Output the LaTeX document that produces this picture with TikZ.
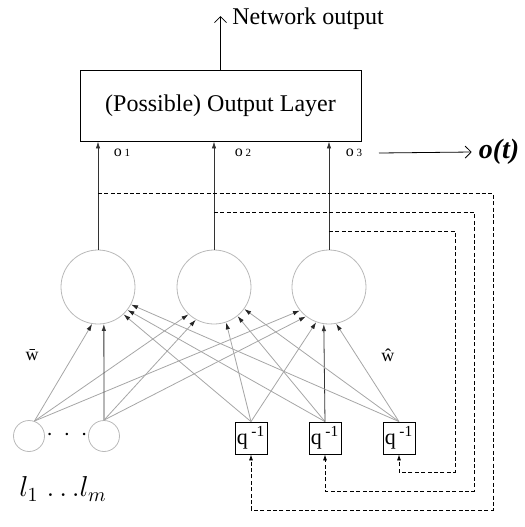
\documentclass[tikz,border=0pt]{standalone}
\usepackage{fontspec}
\setmainfont{Liberation Serif}
\usetikzlibrary{arrows.meta}

\begin{document}
\begin{tikzpicture}[x=0.5pt, y=-0.5pt, node distance=58pt]
\tikzset{%
  % Specifications for style of nodes:
  outbox/.style = {rectangle, draw=black, minimum width=140.5pt,
                   minimum height=35.5pt, font=\fontsize{12}{14}\selectfont},
  neuron/.style = {circle, draw=gray!55, minimum size=37pt, inner sep=0pt},
  inputn/.style = {circle, draw=gray!55, minimum size=15.5pt, inner sep=0pt},
  delay/.style = {rectangle, draw=black, minimum size=16pt, inner sep=0pt,
                  font=\fontsize{11}{11}\selectfont},
  olabel/.style = {inner sep=0pt, font=\fontsize{8}{8}\selectfont},
  % Specifications for style of lines:
  weight/.style = {draw=gray!70, -{Latex[length=3.5pt,width=2.2pt,color=black!85]}},
  mainline/.style = {draw=black!80, -{Latex[length=3.5pt,width=2.2pt]}},
  feedback/.style = {dash pattern=on 2pt off 1.2pt, -{Latex[length=3pt,width=2pt]}},
  barb/.style = {-{Straight Barb[length=3pt,width=6pt]}},
}
\useasboundingbox (0,0) rectangle (525,527);

  % Specification of nodes (position, etc.)
  \node (outlayer) [outbox] at (220.5,105.5) {(Possible) Output Layer};
  \coordinate (netout) at (220.5,16);
  \node (nettext) [anchor=west, inner sep=0pt, font=\fontsize{12}{14}\selectfont] at (232,19) {Network output};

  \node (hid1) [neuron] at (98,287) {};
  \node (hid2) [neuron, right of=hid1] {};
  \node (hid3) [neuron, right of=hid2, xshift=-0.5pt] {};

  \node (in1) [inputn] at (29,436) {};
  \node (in2) [inputn, node distance=37.5pt, right of=in1] {};
  \node (dots) [font=\fontsize{12}{12}\selectfont] at (67,435) {$\cdot\mkern4mu\cdot\mkern4mu\cdot$};

  \node (q1) [delay] at (251,438) {q\,\textsuperscript{-1}};
  \node (q2) [delay, node distance=37pt, right of=q1] {q\,\textsuperscript{-1}};
  \node (q3) [delay, node distance=37pt, right of=q2] {q\,\textsuperscript{-1}};

  \node (o1) [olabel] at (122,153) {o\,{\fontsize{5.5}{5.5}\selectfont 1}};
  \node (o2) [olabel] at (243,153) {o\,{\fontsize{5.5}{5.5}\selectfont 2}};
  \node (o3) [olabel] at (354,153) {o\,{\fontsize{5.5}{5.5}\selectfont 3}};
  \node (ot) [font=\fontsize{14}{16}\selectfont\bfseries\itshape] at (499,152) {o(t)};
  \coordinate (otstart) at (379,153);

  \node (wbar) [font=\fontsize{9}{9}\selectfont] at (32,355) {\=w};
  \node (what) [font=\fontsize{9}{9}\selectfont] at (388,355) {\^w};
  \node (lrange) [font=\fontsize{14}{14}\selectfont] at (63,489) {$l_1\;{\ldots}l_m$};

  % Specification of lines between nodes specified above
\draw[barb] (outlayer.north) -- (netout);
\draw[barb] (otstart) -- (ot.west);

\draw[mainline] (hid1.north) -- (hid1.north |- outlayer.south);
\draw[mainline] (hid2.north) -- (hid2.north |- outlayer.south);
\draw[mainline] (hid3.north) -- (hid3.north |- outlayer.south);

\draw[weight] (in1.70) -- (hid1.261);
\draw[weight] (in1.70) -- (hid2.227);
\draw[weight] (in1.70) -- (hid3.219);
\draw[mainline] (in2.north) -- (hid1.279);
\draw[weight] (in2.north) -- (hid2.241);
\draw[weight] (in2.north) -- (hid3.232);
\draw[weight] (q1.north) -- (hid1.313);
\draw[weight] (q1.north) -- (hid2.289);
\draw[weight] (q1.north) -- (hid3.250);
\draw[weight] (q2.north) -- (hid1.322);
\draw[weight] (q2.north) -- (hid2.309);
\draw[mainline] (q2.north) -- (hid3.262);
\draw[weight] (q3.north) -- (hid1.332);
\draw[weight] (q3.north) -- (hid2.324);
\draw[weight] (q3.north) -- (hid3.281);

% feedback of the outputs to the delays
\coordinate (tap1) at (hid1.north |- 0,193);
\coordinate (tap2) at (hid2.north |- 0,212);
\coordinate (tap3) at (hid3.north |- 0,231);
\draw[feedback] (tap1) -- (493,193) |- (q1.south |- 0,510) -- (q1.south);
\draw[feedback] (tap2) -- (474,212) |- (q2.south |- 0,491) -- (q2.south);
\draw[feedback] (tap3) -- (455,231) |- (q3.south |- 0,472) -- (q3.south);

  \end{tikzpicture}
\end{document}
